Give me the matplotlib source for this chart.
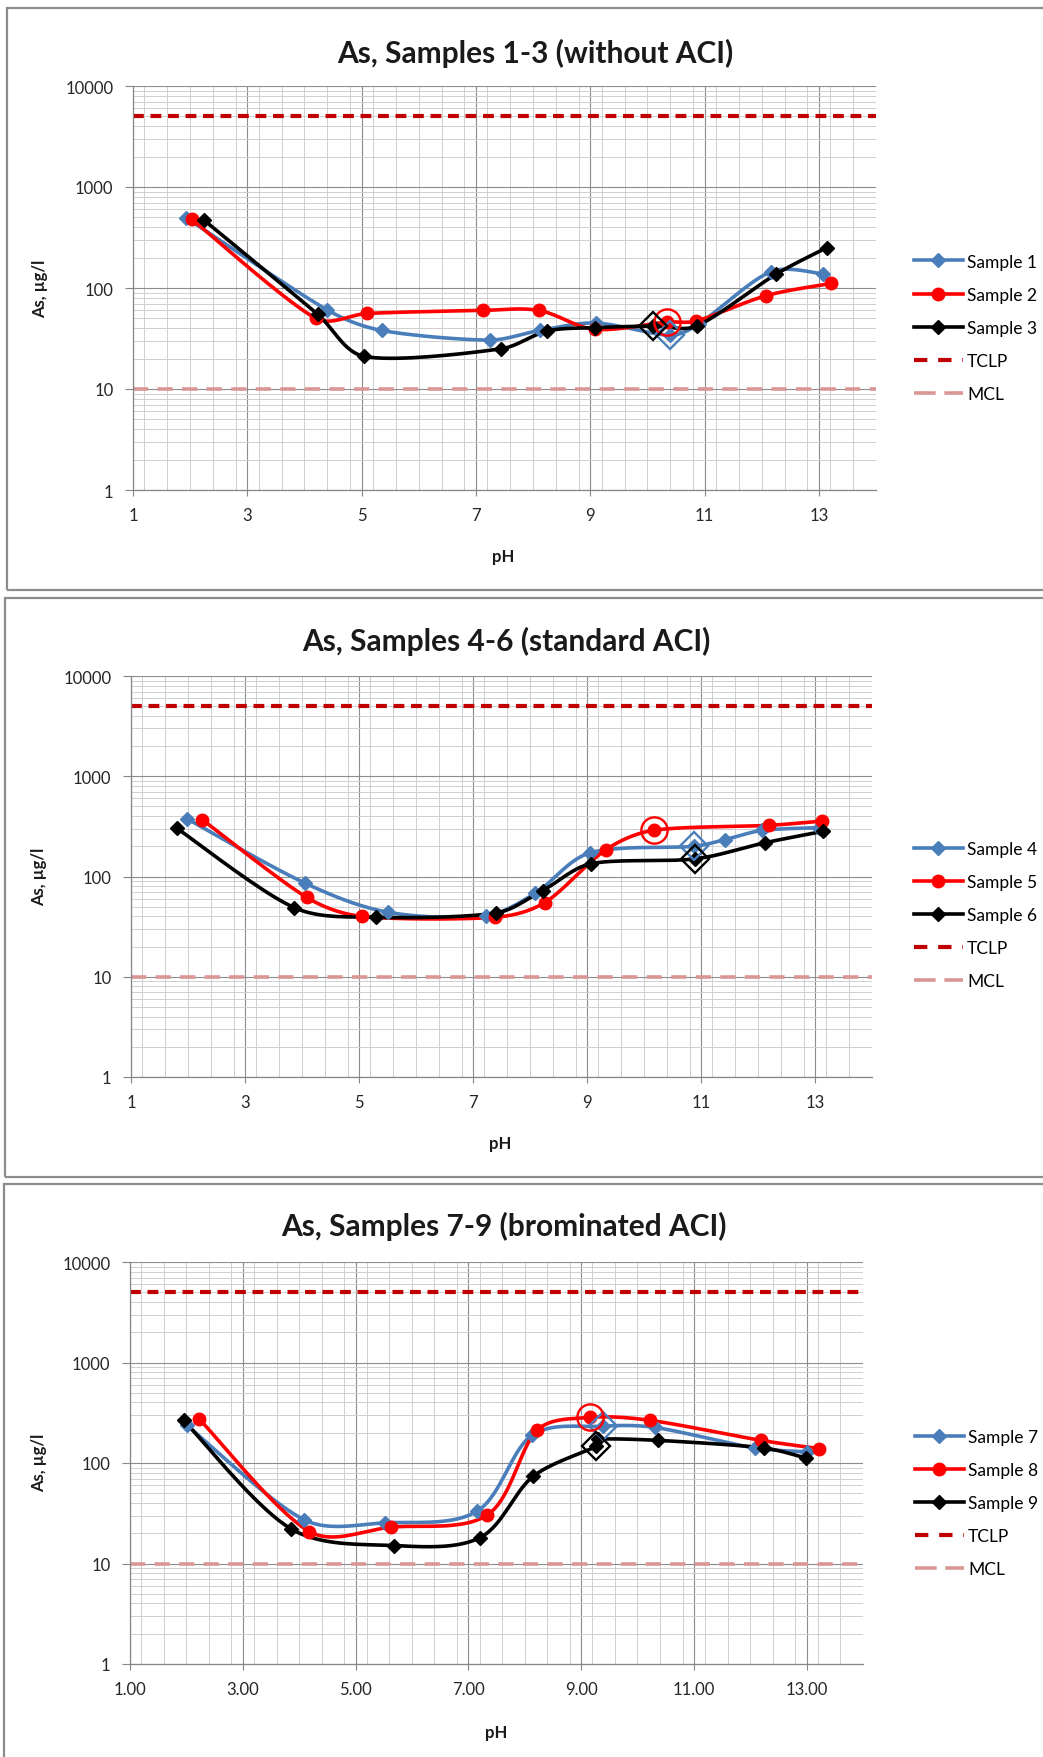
import numpy as np
import matplotlib
matplotlib.use("Agg")
import matplotlib.pyplot as plt
from matplotlib.patches import Rectangle
from matplotlib.lines import Line2D
from matplotlib.ticker import FixedLocator, LogLocator, NullFormatter, MultipleLocator

plt.rcParams['font.family'] = ['Lato', 'DejaVu Sans']

W, H = 1043, 1758

# regulatory limits, ug/l
tclp = 5000
mcl = 10

# Samples 1-3 (without ACI)
ph_s1 = [1.93, 4.39, 5.35, 7.24, 8.12, 9.10, 10.40, 10.90, 12.16, 13.08]
as_s1 = [495, 61, 38, 30.5, 38, 45, 34, 44, 145, 138]
ph_s2 = [2.03, 4.20, 5.10, 7.12, 8.10, 9.08, 10.34, 10.85, 12.08, 13.22]
as_s2 = [478, 50, 56, 60, 60, 39, 46, 47, 84, 111]
ph_s3 = [2.24, 4.23, 5.05, 7.44, 8.25, 9.08, 10.10, 10.86, 12.25, 13.14]
as_s3 = [471, 55, 21, 25, 37.5, 40.5, 42, 42, 137, 251]

# Samples 4-6 (standard ACI)
ph_s4 = [1.98, 4.05, 5.51, 7.22, 8.09, 9.05, 10.88, 11.42, 12.07, 13.07]
as_s4 = [377, 86, 44, 40.7, 68, 172, 200, 233, 288, 307]
ph_s5 = [2.25, 4.08, 5.05, 7.39, 8.26, 9.33, 10.17, 12.20, 13.12]
as_s5 = [369, 62, 40, 39.2, 55, 185, 289, 324, 357]
ph_s6 = [1.80, 3.86, 5.30, 7.41, 8.22, 9.07, 10.90, 12.12, 13.14]
as_s6 = [304, 49, 39.2, 43.3, 72.4, 134, 150, 217, 282]

# Samples 7-9 (brominated ACI)
ph_s7 = [2.01, 4.09, 5.53, 7.15, 8.13, 9.38, 10.31, 12.08, 13.00]
as_s7 = [237, 27.2, 25.4, 33, 189, 232, 226, 141, 129]
ph_s8 = [2.22, 4.18, 5.63, 7.34, 8.22, 9.15, 10.22, 12.19, 13.22]
as_s8 = [277, 20.8, 23, 30.5, 212, 284, 266, 168, 139]
ph_s9 = [1.95, 3.85, 5.68, 7.20, 8.15, 9.26, 9.30, 10.36, 12.25, 12.99]
as_s9 = [266, 22.2, 15.1, 18, 73.6, 146, 172, 168, 141, 112]

# index of the point shown with an extra open marker in each series
hl_13 = [6, 6, 6]
hl_46 = [6, 6, 6]
hl_79 = [5, 5, 5]

blue = '#4A7EBB'
red = '#FF0000'
black = '#000000'
tclp_col = '#C00000'
mcl_col = '#DA9694'


def fx(px):
    return px / W


def fy(py):
    return 1 - py / H


def smooth(x, y, sx=57.0, sy=101.0, n=20):
    # Bezier smoothing like a spreadsheet "smoothed line", done in (x, log y) space
    P = np.column_stack([np.asarray(x, float) * sx, np.log10(y) * sy])
    m = len(P)
    T = np.array([(P[min(i + 1, m - 1)] - P[max(i - 1, 0)]) / 2 for i in range(m)])
    t = np.linspace(0, 1, n)[1:, None]
    out = [P[0]]
    for i in range(m - 1):
        d = np.linalg.norm(P[i + 1] - P[i])
        n0 = np.linalg.norm(T[i])
        n1 = np.linalg.norm(T[i + 1])
        c0 = P[i] + T[i] / 3 * (min(1, d / n0) if n0 > 0 else 0)
        c1 = P[i + 1] - T[i + 1] / 3 * (min(1, d / n1) if n1 > 0 else 0)
        seg = ((1 - t) ** 3 * P[i] + 3 * (1 - t) ** 2 * t * c0
               + 3 * (1 - t) * t ** 2 * c1 + t ** 3 * P[i + 1])
        out.extend(seg)
    out = np.array(out)
    return out[:, 0] / sx, 10 ** (out[:, 1] / sy)


fig = plt.figure(figsize=(W / 100, H / 100), dpi=100)

# panel frames
for (x0, y0, y1) in [(7, 9, 591), (5, 599, 1178), (4, 1185, 1775)]:
    fig.patches.append(Rectangle((fx(x0), fy(y1)), fx(1100 - x0), fy(y0) - fy(y1),
                                 transform=fig.transFigure, fill=False,
                                 edgecolor='#8C8C8C', linewidth=1.6, zorder=0))

panels = [
    dict(box=(133, 876, 87, 491), title='As, Samples 1-3 (without ACI)',
         tpos=(535, 53), ylab=(40, 289), xlab=(503, 557), leg=(914, 328.6),
         series=[(ph_s1, as_s1, 'Sample 1'), (ph_s2, as_s2, 'Sample 2'),
                 (ph_s3, as_s3, 'Sample 3')], hl=hl_13, fmt='{:.0f}'),
    dict(box=(131, 872, 677, 1078), title='As, Samples 4-6 (standard ACI)',
         tpos=(506, 641), ylab=(39, 877), xlab=(500, 1144), leg=(914, 916),
         series=[(ph_s4, as_s4, 'Sample 4'), (ph_s5, as_s5, 'Sample 5'),
                 (ph_s6, as_s6, 'Sample 6')], hl=hl_46, fmt='{:.0f}'),
    dict(box=(130, 863, 1263, 1665), title='As, Samples 7-9 (brominated ACI)',
         tpos=(504, 1226), ylab=(39, 1463), xlab=(496, 1733), leg=(915, 1504),
         series=[(ph_s7, as_s7, 'Sample 7'), (ph_s8, as_s8, 'Sample 8'),
                 (ph_s9, as_s9, 'Sample 9')], hl=hl_79, fmt='{:.2f}'),
]

styles = [dict(color=blue, marker='D', ms=7),
          dict(color=red, marker='o', ms=9),
          dict(color=black, marker='D', ms=7)]

for p in panels:
    l, r, t, b = p['box']
    ax = fig.add_axes([fx(l), fy(b), fx(r - l), (b - t) / H])
    ax.set_yscale('log')
    ax.set_xlim(1, 14)
    ax.set_ylim(1, 10000)

    ax.xaxis.set_major_locator(FixedLocator([1, 3, 5, 7, 9, 11, 13]))
    ax.xaxis.set_minor_locator(MultipleLocator(0.4))
    ax.set_xticklabels([p['fmt'].format(v) for v in [1, 3, 5, 7, 9, 11, 13]])
    ax.yaxis.set_major_locator(FixedLocator([1, 10, 100, 1000, 10000]))
    ax.set_yticklabels(['1', '10', '100', '1000', '10000'])
    ax.yaxis.set_minor_locator(LogLocator(base=10, subs=np.arange(2, 10), numticks=20))
    ax.yaxis.set_minor_formatter(NullFormatter())

    ax.grid(which='major', color='#8C8C8C', linewidth=0.8)
    ax.grid(which='minor', color='#CFCFCF', linewidth=0.7)
    ax.set_axisbelow(True)
    for s in ['top', 'right']:
        ax.spines[s].set_visible(False)
    for s in ['left', 'bottom']:
        ax.spines[s].set_color('#868686')
        ax.spines[s].set_linewidth(0.9)
    ax.tick_params(axis='y', which='major', length=5.5, pad=8.5, color='#868686',
                   labelsize=12, labelcolor='#262626')
    ax.tick_params(axis='x', which='major', length=4.5, pad=8, color='#868686',
                   labelsize=12, labelcolor='#262626')
    ax.tick_params(which='minor', length=0)

    handles = []
    for (ph, conc, name), st, k in zip(p['series'], styles, p['hl']):
        sx, sy = smooth(ph, conc)
        ax.plot(sx, sy, color=st['color'], linewidth=2.6, zorder=3)
        ax.plot(ph, conc, linestyle='none', marker=st['marker'], ms=st['ms'],
                color=st['color'], zorder=4)
        ax.plot([ph[k]], [conc[k]], linestyle='none', marker=st['marker'],
                ms=st['ms'] * 2.1, mfc='none', mec=st['color'], mew=1.7, zorder=5)
        handles.append(Line2D([], [], color=st['color'], linewidth=2.6,
                              marker=st['marker'], ms=st['ms'], label=name))

    ax.axhline(tclp, color=tclp_col, linewidth=3.0, dashes=(2.6, 1.6), zorder=2)
    ax.axhline(mcl, color=mcl_col, linewidth=2.6, dashes=(4.2, 2.6), zorder=2)
    handles.append(Line2D([], [], color=tclp_col, linewidth=3.0, dashes=(3.2, 2.6), label='TCLP'))
    handles.append(Line2D([], [], color=mcl_col, linewidth=2.6, dashes=(6.0, 2.4), label='MCL'))

    fig.legend(handles=handles, loc='center left', bbox_to_anchor=(fx(p['leg'][0]), fy(p['leg'][1])),
               frameon=False, fontsize=12.5, handlelength=2.8, handletextpad=0.25,
               labelspacing=0.98, borderpad=0, borderaxespad=0, numpoints=1)

    fig.text(fx(p['tpos'][0]), fy(p['tpos'][1]), p['title'], ha='center', va='center',
             fontsize=21.5, fontweight='bold', color='#1A1A1A')
    fig.text(fx(p['ylab'][0]), fy(p['ylab'][1]), 'As, µg/l', ha='center', va='center',
             rotation=90, fontsize=12, fontweight='bold', color='#1A1A1A')
    fig.text(fx(p['xlab'][0]), fy(p['xlab'][1]), 'pH', ha='center', va='center',
             fontsize=12, fontweight='bold', color='#1A1A1A')

fig.savefig('out.png', dpi=100, facecolor='white')
